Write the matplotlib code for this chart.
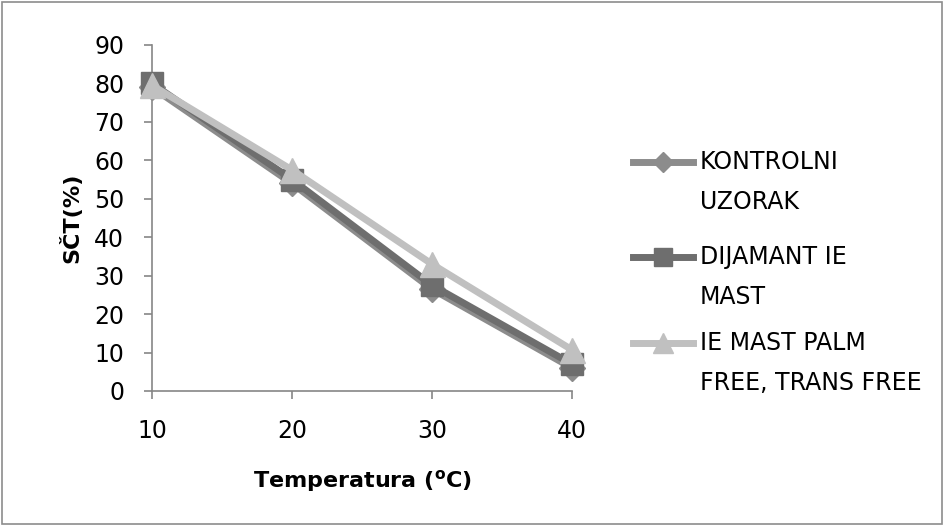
import matplotlib
matplotlib.use("Agg")
import matplotlib.pyplot as plt
from matplotlib.patches import Rectangle
from matplotlib.lines import Line2D

plt.rcParams['font.family'] = ['DejaVu Sans']

temps = [10, 20, 30, 40]
kontrolni = [79, 54, 26.5, 6]
dijamant = [80, 55, 27.5, 7]
palm_free = [79.5, 57.5, 33, 10.7]
labels = ["KONTROLNI\nUZORAK", "DIJAMANT IE\nMAST", "IE MAST PALM\nFREE, TRANS FREE"]
yticks = list(range(0, 91, 10))

fig = plt.figure(figsize=(9.44, 5.26), dpi=100)
fig.patches.append(Rectangle((0.002, 0.003), 0.996, 0.994, transform=fig.transFigure,
                             fill=False, edgecolor="#8c8c8c", linewidth=1.2))
ax = fig.add_axes([152/944, 1-391/526, 420/944, 346/526])

styles = [
    dict(color="#8c8c8c", marker="D", ms=13, leg_ms=10),
    dict(color="#6e6e6e", marker="s", ms=16, leg_ms=13),
    dict(color="#c0c0c0", marker="^", ms=18, leg_ms=15),
]
series = [kontrolni, dijamant, palm_free]
for i, (vals, st) in enumerate(zip(series, styles)):
    ax.plot(temps, vals, color=st["color"], lw=5, marker=st["marker"], ms=st["ms"],
            mec=st["color"], zorder=3 + i, clip_on=False)

ax.set_xlim(10, 40)
ax.set_ylim(0, 90)
ax.set_xticks(temps)
ax.set_yticks(yticks)
for s in ["top", "right"]:
    ax.spines[s].set_visible(False)
for s in ["left", "bottom"]:
    ax.spines[s].set_color("#868686")
    ax.spines[s].set_linewidth(1.2)
ax.tick_params(axis="both", colors="#868686", length=6, width=1.2, labelsize=17,
               labelcolor="black")
ax.tick_params(axis="x", pad=14)
ax.tick_params(axis="y", pad=14)

ax.set_xlabel("Temperatura ($^{\\mathregular{o}}$C)", fontsize=16, fontweight="bold", labelpad=18)
ax.set_ylabel("SČT(%)", fontsize=16, fontweight="bold", labelpad=8)

# legend: handle aligned with the first line of each two-line label
leg_y = [162, 257, 343]
for lab, st, yy in zip(labels, styles, leg_y):
    yf = 1 - yy / 526
    fig.add_artist(Line2D([633/944, 693/944], [yf, yf], transform=fig.transFigure,
                          color=st["color"], lw=5))
    fig.add_artist(Line2D([663/944], [yf], transform=fig.transFigure,
                          color=st["color"], marker=st["marker"], ms=st["leg_ms"], lw=0))
    fig.text(700/944, yf + 12/526, lab, fontsize=17, va="top", ha="left",
             linespacing=1.85, transform=fig.transFigure)

fig.savefig("out.png", dpi=100)
